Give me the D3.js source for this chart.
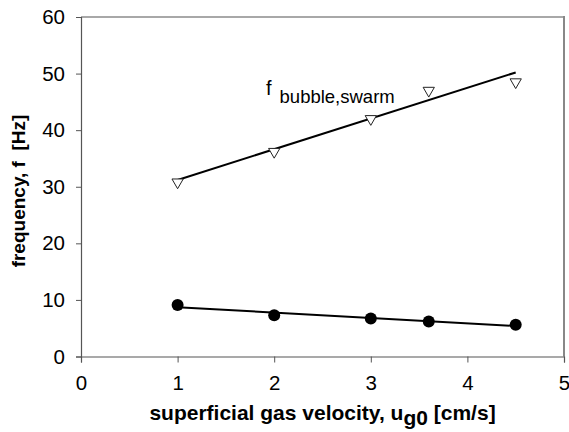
<!DOCTYPE html>
<html><head><meta charset="utf-8">
<script src="https://cdn.jsdelivr.net/npm/d3@7"></script>
<style>body{margin:0;background:#fff}svg{display:block}</style>
</head><body>
<svg id="c" width="569" height="432"></svg>
<script>
const xVals = [1, 2, 3, 3.6, 4.5];
const swarmVals = [30.8, 36.2, 42.0, 47.0, 48.5];
const singleVals = [9.1, 7.3, 6.7, 6.2, 5.6];
const swarmTrend = [[1, 31.2], [4.5, 50.2]];
const singleTrend = [[1, 8.7], [4.5, 5.4]];
const xTicks = [0, 1, 2, 3, 4, 5];
const yTicks = [0, 10, 20, 30, 40, 50, 60];

const svg = d3.select("#c");
const L = 81, R = 564, T = 17, B = 356.5;
const x = d3.scaleLinear().domain([0, 5]).range([L, R]);
const y = d3.scaleLinear().domain([0, 60]).range([B, T]);
const font = "Liberation Sans, Arial, sans-serif";

svg.append("line").attr("x1", L).attr("x2", R).attr("y1", T).attr("y2", T)
  .attr("stroke", "#a8a8a8").attr("stroke-width", 2);
svg.append("line").attr("x1", R).attr("x2", R).attr("y1", T - 1).attr("y2", B)
  .attr("stroke", "#888").attr("stroke-width", 2);

const xAxis = svg.append("g").attr("transform", `translate(0,${B})`)
  .call(d3.axisBottom(x).tickValues(xTicks).tickSize(6).tickPadding(9).tickFormat(d3.format("d")));
const yAxis = svg.append("g").attr("transform", `translate(${L},0)`)
  .call(d3.axisLeft(y).tickValues(yTicks).tickSize(5).tickPadding(11).tickFormat(d3.format("d")));
[xAxis, yAxis].forEach(g => {
  g.select(".domain").attr("stroke", "#555").attr("stroke-width", 1.2);
  g.selectAll(".tick line").attr("stroke", "#555");
  g.selectAll("text").attr("font-family", font).attr("font-size", 20.5).attr("fill", "#000");
});
xAxis.selectAll(".tick text").attr("dy", "0.9em");

const line = d3.line().x(d => x(d[0])).y(d => y(d[1]));
svg.append("path").attr("d", line(swarmTrend)).attr("fill", "none").attr("stroke", "#000").attr("stroke-width", 2);
svg.append("path").attr("d", line(singleTrend)).attr("fill", "none").attr("stroke", "#000").attr("stroke-width", 2);

const tri = d3.symbol().type(d3.symbolTriangle).size(55);
svg.selectAll(".tri").data(xVals.map((v, i) => [v, swarmVals[i]])).enter()
  .append("path").attr("d", tri)
  .attr("transform", d => `translate(${x(d[0])},${y(d[1])}) rotate(180)`)
  .attr("fill", "#fff").attr("stroke", "#222").attr("stroke-width", 1);

svg.selectAll(".dot").data(xVals.map((v, i) => [v, singleVals[i]])).enter()
  .append("circle").attr("cx", d => x(d[0])).attr("cy", d => y(d[1])).attr("r", 6)
  .attr("fill", "#000");

const lab = svg.append("text").attr("x", 266).attr("y", 95).attr("font-family", font).attr("font-size", 20);
lab.append("tspan").text("f");
lab.append("tspan").attr("dx", 8).attr("dy", 8).attr("font-size", 18.5).text("bubble,swarm");

const xt = svg.append("text").attr("x", (L + R) / 2).attr("y", 420).attr("text-anchor", "middle")
  .attr("font-family", font).attr("font-size", 21).attr("font-weight", "bold");
xt.append("tspan").text("superficial gas velocity, u");
xt.append("tspan").attr("dy", 5).text("g0");
xt.append("tspan").attr("dy", -5).text(" [cm/s]");

svg.append("text").attr("transform", `translate(25,191) rotate(-90)`).attr("text-anchor", "middle")
  .attr("font-family", font).attr("font-size", 19).attr("font-weight", "bold")
  .style("white-space", "pre")
  .text("frequency, f  [Hz]");
</script>
</body></html>
